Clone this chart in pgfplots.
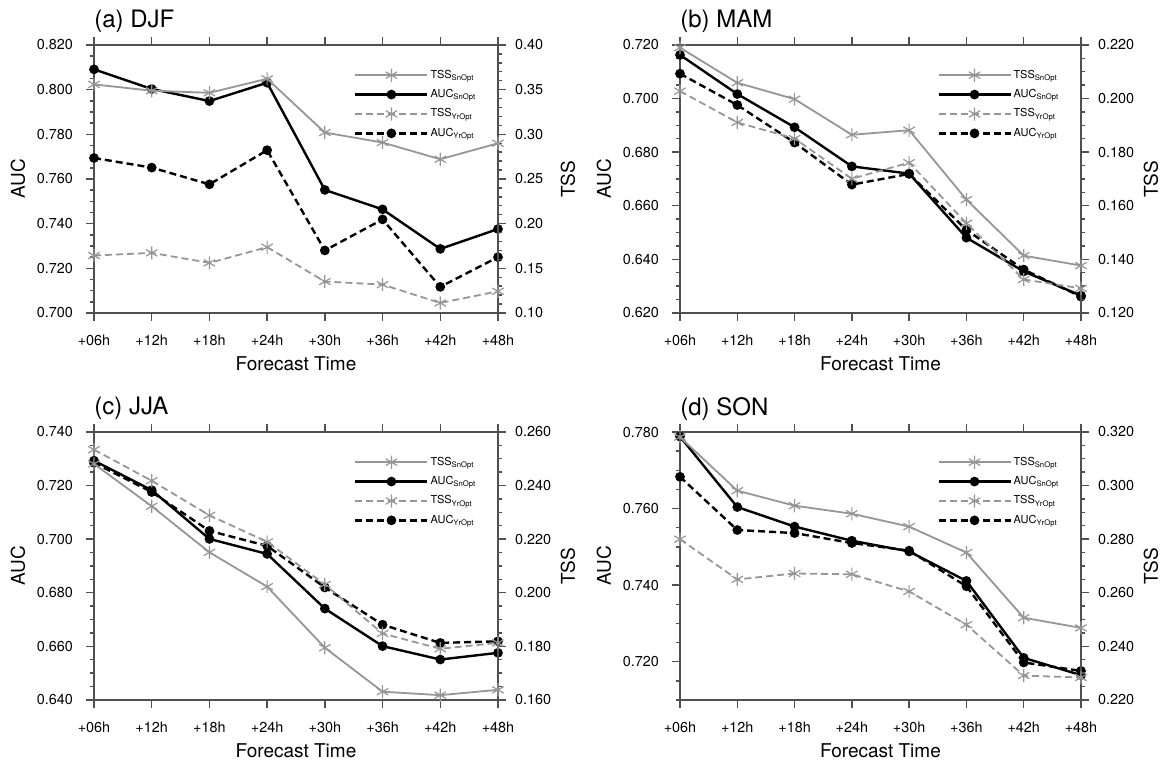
\documentclass[border=0pt]{standalone}
\usepackage{fontspec}
\setmainfont{TeX Gyre Heros}
\usepackage{pgfplots}
\usepackage{pgfplotstable}
\pgfplotsset{compat=1.18}

\definecolor{tssgray}{RGB}{150,150,150}
\definecolor{axgray}{RGB}{80,80,80}

% columns: forecast step, AUC SnOpt, AUC YrOpt, TSS SnOpt, TSS YrOpt
\pgfplotstableread{
x aucsn aucyr tsssn tssyr
0 0.8091 0.7694 0.3559 0.1643
1 0.8003 0.7651 0.3488 0.1673
2 0.7949 0.7576 0.3465 0.1561
3 0.8031 0.7729 0.3622 0.1737
4 0.7551 0.7280 0.3020 0.1352
5 0.7464 0.7419 0.2908 0.1318
6 0.7287 0.7117 0.2721 0.1112
7 0.7376 0.7250 0.2900 0.1243
}\djf
\pgfplotstableread{
x aucsn aucyr tsssn tssyr
0 0.7163 0.7093 0.2190 0.2028
1 0.7017 0.6976 0.2059 0.1911
2 0.6893 0.6836 0.1998 0.1851
3 0.6747 0.6679 0.1865 0.1701
4 0.6720 0.6719 0.1882 0.1761
5 0.6481 0.6510 0.1623 0.1535
6 0.6355 0.6362 0.1414 0.1325
7 0.6265 0.6261 0.1377 0.1292
}\mam
\pgfplotstableread{
x aucsn aucyr tsssn tssyr
0 0.7293 0.7285 0.2481 0.2534
1 0.7183 0.7176 0.2323 0.2418
2 0.7001 0.7031 0.2151 0.2289
3 0.6945 0.6975 0.2023 0.2190
4 0.6741 0.6820 0.1795 0.2031
5 0.6601 0.6681 0.1631 0.1848
6 0.6551 0.6613 0.1618 0.1791
7 0.6576 0.6619 0.1638 0.1813
}\jja
\pgfplotstableread{
x aucsn aucyr tsssn tssyr
0 0.7788 0.7683 0.3181 0.2800
1 0.7604 0.7544 0.2981 0.2650
2 0.7553 0.7536 0.2925 0.2672
3 0.7516 0.7510 0.2895 0.2669
4 0.7488 0.7490 0.2847 0.2605
5 0.7411 0.7397 0.2750 0.2481
6 0.7210 0.7198 0.2507 0.2291
7 0.7165 0.7176 0.2469 0.2284
}\son

\pgfplotsset{
  panel/.style={
    scale only axis, height=134pt,
    xmin=0, xmax=7, xtick={0,...,7},
    xticklabels={+06h,+12h,+18h,+24h,+30h,+36h,+42h,+48h},
    tick align=outside, major tick length=4pt, minor tick length=2.2pt,
    axis line style={axgray, line width=0.8pt},
    every tick/.style={axgray, line width=0.7pt},
    tick label style={font=\fontsize{7.2}{8}\selectfont, black},
    xticklabel style={yshift=-3.5pt},
    /pgf/number format/assume math mode=true,
    /pgf/number format/.cd, fixed, fixed zerofill, precision=3, /pgfplots/.cd,
    clip=false,
  },
  leftax/.style={panel, axis y line*=left,
    yticklabel style={xshift=-3pt},
    ylabel=AUC,
    ylabel style={at={(0,0.5)}, anchor=center, yshift=38pt, font=\fontsize{9.5}{11}\selectfont},
    xlabel=Forecast Time,
    xlabel style={at={(0.5,0)}, anchor=base, yshift=-29pt, font=\fontsize{9.5}{11}\selectfont},
    title style={at={(0,1)}, anchor=base west, yshift=2.5pt, inner sep=0pt, font=\fontsize{12}{14}\selectfont},
  },
  rightax/.style={panel, axis y line*=right, axis x line=none,
    yticklabel style={xshift=1pt},
    ylabel=TSS,
    ylabel style={at={(1,0.5)}, anchor=center, yshift=-35pt, font=\fontsize{9.5}{11}\selectfont},
    legend style={at={(0.967,0.93)}, anchor=north east, draw=none, fill=none,
      font=\fontsize{5.5}{6}\selectfont, row sep=2.7pt,
      nodes={inner sep=1pt, text height=4pt, text depth=1pt}},
    legend cell align=left,
    legend image code/.code={\draw[mark repeat=2,mark phase=2,##1] plot coordinates {(0pt,0pt) (18pt,0pt) (36pt,0pt)};},
  },
  aucsn/.style={black, line width=1.2pt, mark=*, mark size=1.8pt, mark options={solid}},
  aucyr/.style={black, line width=1.2pt, dash pattern=on 3.5pt off 2pt, mark=*, mark size=1.8pt, mark options={solid}},
  tsssn/.style={tssgray, line width=0.9pt, mark=asterisk, mark size=3.3pt, mark options={solid, line width=0.6pt}},
  tssyr/.style={tssgray, line width=0.9pt, dash pattern=on 3.5pt off 2pt, mark=asterisk, mark size=3.3pt, mark options={solid, line width=0.6pt}},
}

\newcommand{\legendall}{%
  \addlegendimage{tsssn}\addlegendentry{TSS\textsubscript{SnOpt}}
  \addlegendimage{aucsn}\addlegendentry{AUC\textsubscript{SnOpt}}
  \addlegendimage{tssyr}\addlegendentry{TSS\textsubscript{YrOpt}}
  \addlegendimage{aucyr}\addlegendentry{AUC\textsubscript{YrOpt}}
}

\begin{document}
\begin{tikzpicture}
\useasboundingbox (0,0) rectangle (587pt,382.5pt);

% (a) DJF
\begin{axis}[leftax, at={(47pt,226pt)}, anchor=south west, width=202pt,
  title={(a) DJF}, ymin=0.70, ymax=0.82, ytick={0.70,0.72,...,0.821},
  minor ytick={0.700,0.705,...,0.8201}]
\addplot[aucsn] table[x=x,y=aucsn] {\djf};
\addplot[aucyr] table[x=x,y=aucyr] {\djf};
\end{axis}
\begin{axis}[rightax, at={(47pt,226pt)}, anchor=south west, width=202pt,
  ymin=0.10, ymax=0.40, ytick={0.10,0.15,...,0.401},
  minor ytick={0.10,0.11,...,0.401},
  yticklabel style={/pgf/number format/precision=2}]
\addplot[tsssn, forget plot] table[x=x,y=tsssn] {\djf};
\addplot[tssyr, forget plot] table[x=x,y=tssyr] {\djf};
\legendall
\end{axis}

% (b) MAM
\begin{axis}[leftax, at={(340pt,226pt)}, anchor=south west, width=200.5pt,
  title={(b) MAM}, ymin=0.62, ymax=0.72, ytick={0.62,0.64,...,0.721},
  minor ytick={0.620,0.625,...,0.7201}]
\addplot[aucsn] table[x=x,y=aucsn] {\mam};
\addplot[aucyr] table[x=x,y=aucyr] {\mam};
\end{axis}
\begin{axis}[rightax, at={(340pt,226pt)}, anchor=south west, width=200.5pt,
  ymin=0.12, ymax=0.22, ytick={0.12,0.14,...,0.221},
  minor ytick={0.120,0.125,...,0.2201}]
\addplot[tsssn, forget plot] table[x=x,y=tsssn] {\mam};
\addplot[tssyr, forget plot] table[x=x,y=tssyr] {\mam};
\legendall
\end{axis}

% (c) JJA
\begin{axis}[leftax, at={(47pt,32.5pt)}, anchor=south west, width=202pt,
  title={(c) JJA}, ymin=0.64, ymax=0.74, ytick={0.64,0.66,...,0.741},
  minor ytick={0.640,0.645,...,0.7401}]
\addplot[aucsn] table[x=x,y=aucsn] {\jja};
\addplot[aucyr] table[x=x,y=aucyr] {\jja};
\end{axis}
\begin{axis}[rightax, at={(47pt,32.5pt)}, anchor=south west, width=202pt,
  ymin=0.16, ymax=0.26, ytick={0.16,0.18,...,0.261},
  minor ytick={0.160,0.165,...,0.2601}]
\addplot[tsssn, forget plot] table[x=x,y=tsssn] {\jja};
\addplot[tssyr, forget plot] table[x=x,y=tssyr] {\jja};
\legendall
\end{axis}

% (d) SON
\begin{axis}[leftax, at={(340pt,32.5pt)}, anchor=south west, width=200.5pt,
  title={(d) SON}, ymin=0.71, ymax=0.78, ytick={0.72,0.74,...,0.781},
  minor ytick={0.710,0.715,...,0.7801}]
\addplot[aucsn] table[x=x,y=aucsn] {\son};
\addplot[aucyr] table[x=x,y=aucyr] {\son};
\end{axis}
\begin{axis}[rightax, at={(340pt,32.5pt)}, anchor=south west, width=200.5pt,
  ymin=0.22, ymax=0.32, ytick={0.22,0.24,...,0.321},
  minor ytick={0.220,0.225,...,0.3201}]
\addplot[tsssn, forget plot] table[x=x,y=tsssn] {\son};
\addplot[tssyr, forget plot] table[x=x,y=tssyr] {\son};
\legendall
\end{axis}
\end{tikzpicture}
\end{document}
